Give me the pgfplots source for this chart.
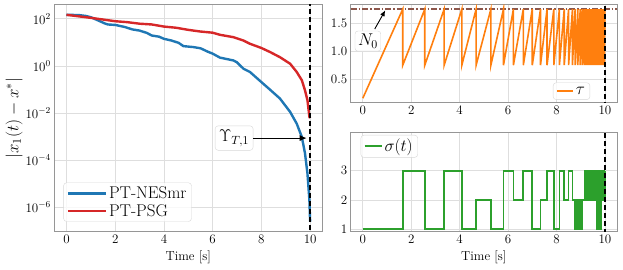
\RequirePackage{fix-cm}
\documentclass[border=0pt]{standalone}
\usepackage{pgfplots}
\pgfplotsset{compat=1.18}
\usetikzlibrary{arrows.meta}
\definecolor{tblue}{RGB}{31,119,180}
\definecolor{tred}{RGB}{214,39,40}
\definecolor{torange}{RGB}{255,127,14}
\definecolor{tgreen}{RGB}{44,160,44}
\definecolor{tbrown}{RGB}{140,86,75}
\definecolor{gridc}{RGB}{222,222,222}
\definecolor{spinec}{RGB}{150,150,150}
\definecolor{legc}{RGB}{215,215,215}
\begin{document}
\begin{tikzpicture}
\useasboundingbox (0pt,0pt) rectangle (623pt,269pt);
\pgfplotsset{
  every axis/.append style={
    scale only axis, anchor=south west,
    xmin=-0.5, xmax=10.5, xtick={0,2,4,6,8,10},
    grid=major, major grid style={color=gridc, line width=0.7pt},
    axis line style={spinec, line width=0.8pt},
    major tick length=0pt, minor tick length=0pt,
    tick label style={font=\fontsize{13}{14}\selectfont},
    label style={font=\fontsize{13}{15}\selectfont},
    legend cell align=left,
    legend style={draw=legc, rounded corners=3pt, fill=white, fill opacity=0.8, text opacity=1,
      font=\fontsize{17}{19}\selectfont},
  },
}
% ---------------- left axis ----------------
\begin{axis}[at={(54.3pt,37.3pt)}, width=268pt, height=227pt,
  ymode=log, ymin=8.9e-8, ymax=398,
  ytick={1e-6,1e-4,1e-2,1,1e2},
  xlabel={Time [s]},
  ylabel={$|x_1(t)-x^*|$},
  ylabel style={font=\fontsize{17}{19}\selectfont, at={(axis description cs:-0.150,0.5)}, anchor=center},
  legend style={at={(0.034,0.044)}, anchor=south west},
  legend image code/.code={\draw[#1] (0pt,0pt) -- (38pt,0pt);},
]
\addplot[tblue, line width=2.4pt] coordinates {
(0,148) (0.5,144.5) (0.8,132) (1.0,117) (1.3,85) (1.6,62) (1.7,57.5) (2.0,55)
(2.4,44.7) (2.7,35.5) (3.0,31.6) (3.3,25.1) (3.5,19.5) (3.8,17.4) (4.0,14.1)
(4.3,12.0) (4.6,9.55) (4.8,6.9) (5.2,6.3) (5.5,5.6) (5.8,4.0) (6.0,3.3)
(6.3,2.24) (6.85,1.70) (7.0,1.41) (7.26,0.76) (7.53,0.55) (8.0,0.204)
(8.35,0.098) (8.76,0.041) (9.18,0.011) (9.45,3.5e-3) (9.66,9.5e-4)
(9.79,1.9e-4) (9.89,2.7e-5) (9.97,2.0e-6) (10.0,2.4e-7)
};
\addlegendentry{PT-NESmr}
\addplot[tred, line width=2.4pt] coordinates {
(0,148) (1,110) (2,79) (2.5,72) (3,62) (3.5,57.5) (4,46.8) (4.5,41.7)
(5,33.9) (5.5,28.8) (6,25.7) (6.3,20.9) (6.85,16.6) (7.26,12.0) (7.53,8.7)
(8.0,5.75) (8.35,3.9) (8.76,2.34) (9.18,1.23) (9.45,0.55) (9.66,0.245)
(9.79,0.091) (9.89,0.035) (9.97,6.8e-3) (10.0,6.0e-3)
};
\addlegendentry{PT-PSG}
\addplot[black, line width=1.8pt, dash pattern=on 5.5pt off 2.5pt, forget plot] coordinates {(10,1e-8) (10,1e3)};
\node[draw=legc, fill=white, rounded corners=3pt, inner sep=4pt,
  font=\fontsize{17}{19}\selectfont] (ups) at (axis cs:6.88,8.5e-4) {$\Upsilon_{T,1}$};
\draw[-{Latex[length=7pt,width=6pt]}, line width=1pt] (ups.east) -- (axis cs:9.86,8.5e-4);
\end{axis}
% ---------------- right top axis ----------------
\begin{axis}[at={(350.7pt,166.3pt)}, width=266.3pt, height=98pt,
  ymin=0.08, ymax=1.83, ytick={0.5,1.0,1.5},
  yticklabel style={/pgf/number format/.cd, fixed, fixed zerofill, precision=1},
  legend style={at={(0.899,0.03)}, anchor=south east},
  legend image code/.code={\draw[#1] (0pt,0pt) -- (16pt,0pt);},
]
\addplot[tbrown, line width=1.6pt, dash pattern=on 6pt off 2pt on 1.5pt off 2pt, forget plot] coordinates {(-0.5,1.75) (10.5,1.75)};
\addplot[torange, line width=1.6pt] coordinates {
(0,0.16) (1.65,1.75) (1.65,0.75) (2.56,1.75) (2.56,0.75) (3.36,1.75) (3.36,0.75)
(4.09,1.75) (4.09,0.75) (4.68,1.75) (4.68,0.75) (5.29,1.75) (5.29,0.75)
(5.81,1.75) (5.81,0.75) (6.22,1.75) (6.22,0.75) (6.63,1.75) (6.63,0.75)
(7.00,1.75) (7.00,0.75) (7.34,1.75) (7.34,0.75) (7.61,1.75) (7.61,0.75)
(7.89,1.75) (7.89,0.75) (8.12,1.75) (8.12,0.75) (8.32,1.75) (8.32,0.75)
(8.50,1.75) (8.50,0.75) (8.66,1.75) (8.66,0.75) (8.77,1.75) (8.77,0.75)
(8.88,1.75) (8.88,0.75) (8.98,1.75) (8.98,0.75) (9.07,1.75) (9.07,0.75)
(9.15,1.75) (9.15,0.75) (9.21,1.75) (9.21,0.75) (9.26,1.75) (9.26,0.75)
(9.31,1.75) (9.31,0.75) (9.35,1.75) (9.35,0.75) (9.39,1.75) (9.39,0.75)
(9.43,1.75) (9.43,0.75) (9.47,1.75) (9.47,0.75) (9.50,1.75) (9.50,0.75)
(9.53,1.75) (9.53,0.75) (9.56,1.75) (9.56,0.75) (9.59,1.75) (9.59,0.75)
(9.62,1.75) (9.62,0.75) (9.65,1.75) (9.65,0.75) (9.68,1.75) (9.68,0.75)
(9.70,1.75) (9.70,0.75) (9.72,1.75) (9.72,0.75) (9.74,1.75) (9.74,0.75)
(9.76,1.75) (9.76,0.75) (9.78,1.75) (9.78,0.75) (9.80,1.75) (9.80,0.75)
(9.82,1.75) (9.82,0.75) (9.84,1.75) (9.84,0.75) (9.86,1.75) (9.86,0.75)
(9.88,1.75) (9.88,0.75) (9.90,1.75) (9.90,0.75) (9.92,1.75) (9.92,0.75)
(9.94,1.75) (9.94,0.75) (9.96,1.75) (9.96,0.75) (9.98,1.75) (9.98,0.75)
(10.0,1.75)
};
\addlegendentry{$\tau$}
\addplot[black, line width=1.8pt, dash pattern=on 5.5pt off 2.5pt, forget plot] coordinates {(10,0) (10,2)};
\node[draw=legc, fill=white, rounded corners=3pt, inner sep=3pt,
  font=\fontsize{17}{19}\selectfont] (nz) at (axis cs:0.21,1.18) {$N_0$};
\draw[-{Latex[length=6pt,width=5pt]}, line width=0.9pt, shorten <=2pt] (nz) -- (axis cs:0.93,1.73);
\end{axis}
% ---------------- right bottom axis ----------------
\begin{axis}[at={(350.7pt,37.3pt)}, width=266.3pt, height=99.4pt,
  ymin=0.91, ymax=4.32, ytick={1,2,3},
  xlabel={Time [s]},
  legend style={at={(0.0375,0.973)}, anchor=north west},
  legend image code/.code={\draw[#1] (0pt,0pt) -- (17pt,0pt);},
]
\addplot[tgreen, line width=1.7pt, const plot] coordinates {
(0,1) (1.65,3) (2.56,1) (3.36,3) (4.09,1) (4.68,2) (5.29,1) (5.81,3) (6.22,2)
(6.63,3) (7.00,1) (7.34,2) (7.61,3) (7.89,1) (8.12,3) (8.32,2) (8.50,3)
(8.66,2) (8.77,1) (8.81,2) (8.86,1) (8.90,2) (8.95,1) (8.99,2) (9.05,1)
(9.08,2) (9.18,3) (9.21,2) (9.23,3) (9.26,2) (9.28,3) (9.31,2) (9.33,3)
(9.36,2) (9.38,3) (9.41,2) (9.43,3) (9.46,2) (9.48,3) (9.51,2) (9.53,3)
(9.56,2) (9.58,3) (9.61,2) (9.63,3) (9.65,1) (9.67,2) (9.69,3) (9.72,2)
(9.74,3) (9.77,1) (9.80,2) (9.82,3) (9.84,1) (9.86,2) (9.88,3) (9.90,2)
(9.92,3) (9.94,2) (9.96,3) (9.98,2) (10.0,3)
};
\addlegendentry{$\sigma(t)$}
\addplot[black, line width=1.8pt, dash pattern=on 5.5pt off 2.5pt, forget plot] coordinates {(10,0) (10,5)};
\end{axis}
\end{tikzpicture}
\end{document}
